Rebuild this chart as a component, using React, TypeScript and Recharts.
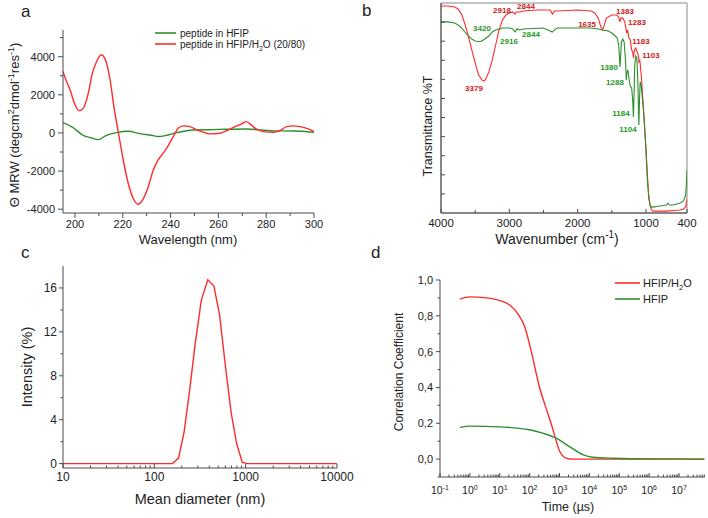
import React from 'react'
import { LineChart, Line, XAxis, YAxis, ReferenceArea, ReferenceDot } from 'recharts'

const RED = '#ff2a2a'
const GREEN = '#2e8f2e'
const RED_TXT = '#d01818'
const GREEN_TXT = '#1e9a1e'
const AXIS = '#4a4a4a'
const INK = '#222'
const FONT = '"Liberation Sans", Arial, Helvetica, sans-serif'

// (a) CD spectra
const cdRedNm = [195, 196, 198, 200, 201.8, 203.5, 205.6, 207.3, 209.1, 211, 213, 214.7, 216.3, 218.1, 220.2, 222.3, 224.4, 226.4, 228.5, 230.6, 232.7, 234.8, 237, 238.4, 241.1, 243.2, 245.3, 248.1, 250.9, 253, 256.5, 260.7, 264.2, 267.7, 269.8, 271.6, 273.2, 276, 278.8, 283, 285.8, 288.6, 291.4, 294.1, 297.6, 300]
const cdRedMrw = [3230, 2850, 2250, 1480, 1170, 1300, 2090, 3140, 3750, 4100, 3750, 2790, 1380, 70, -1420, -2650, -3440, -3740, -3470, -2850, -1970, -1410, -1050, -800, -195, 245, 370, 330, 160, 70, -50, -15, 160, 370, 475, 595, 475, 195, 70, 35, 125, 330, 370, 330, 210, 70]
const cdGreenNm = [195, 199.2, 203.4, 206.9, 209.7, 213.2, 217.4, 222.3, 227.2, 232.1, 235, 238.4, 242.6, 249.5, 256, 263.5, 271.8, 277.4, 284, 291.4, 300]
const cdGreenMrw = [546, 282, -123, -264, -352, -123, 18, 88, -35, -123, -190, -123, 16, 158, 170, 195, 210, 158, 110, 105, 35]

// (b) FTIR spectra
const irRedWn = [4000, 3900, 3800, 3750, 3700, 3650, 3600, 3550, 3500, 3450, 3400, 3379, 3350, 3300, 3250, 3200, 3150, 3100, 3050, 3000, 2950, 2918, 2900, 2844, 2800, 2600, 2400, 2370, 2340, 2300, 2000, 1800, 1750, 1700, 1660, 1635, 1610, 1580, 1500, 1430, 1400, 1383, 1370, 1340, 1310, 1290, 1283, 1270, 1250, 1230, 1210, 1195, 1183, 1170, 1150, 1130, 1115, 1103, 1090, 1070, 1050, 1030, 1000, 980, 960, 940, 920, 900, 800, 700, 600, 500, 450, 420, 410, 400]
const irRedT = [108.4, 108.4, 107.9, 106.9, 104.2, 99, 92.7, 85.4, 78.6, 72.3, 69.7, 69.1, 69.7, 73.9, 80.1, 88, 95.9, 101.1, 103.7, 104.8, 105.3, 104.2, 105.3, 105.3, 105.8, 106.3, 106.3, 104.2, 105.8, 105.8, 106.3, 105.8, 104.8, 102.1, 97.4, 95.9, 98.5, 102.1, 103.7, 103.7, 102.7, 100.1, 102.1, 102.1, 100.1, 95.9, 94.3, 95.9, 91.7, 90.6, 85.4, 84.5, 81.2, 85.4, 86.4, 84.3, 83, 79.1, 80, 72.3, 61.8, 51.3, 33, 19.9, 9.4, 3.7, 1.6, 1, 1, 1, 1.3, 1.6, 2.1, 3.1, 5.2, 7.3]
const irGreenWn = [4000, 3900, 3800, 3750, 3700, 3650, 3600, 3550, 3500, 3450, 3420, 3380, 3300, 3250, 3200, 3100, 3000, 2950, 2916, 2890, 2844, 2800, 2500, 2370, 2340, 2300, 2000, 1800, 1700, 1635, 1560, 1500, 1450, 1420, 1400, 1390, 1380, 1370, 1360, 1340, 1320, 1300, 1288, 1280, 1265, 1250, 1230, 1210, 1195, 1184, 1175, 1165, 1150, 1135, 1120, 1104, 1095, 1085, 1070, 1050, 1030, 1000, 980, 960, 940, 920, 900, 800, 700, 680, 660, 600, 550, 500, 450, 420, 410, 400]
const irGreenT = [100.1, 100.1, 99.5, 98.5, 96.9, 94.8, 92.7, 91.1, 90.1, 89.8, 89.8, 90.6, 92.7, 94.8, 95.9, 96.9, 96.9, 96.4, 94.8, 96.4, 95.9, 96.4, 96.9, 94.8, 95.9, 96.9, 96.9, 96.9, 96.4, 95.9, 95.4, 94.3, 92.7, 91.7, 88, 82.8, 76.5, 82.8, 89.6, 91.1, 89.6, 80.1, 69.7, 73.4, 74.9, 70.7, 66.5, 65.5, 59.2, 50.3, 61.8, 77.5, 82.2, 81.2, 69.7, 46.1, 59.2, 68.6, 67, 59.2, 49.8, 33, 17.3, 7.9, 4.2, 3.1, 3.1, 3.7, 4.2, 5.2, 4.2, 4.2, 4.7, 5.2, 6.3, 9.4, 14.7, 22.5]

// peak labels: text, where it sits (wavenumber, %T), which spectrum
const irLabelText = ['3379', '2918', '2844', '1635', '1383', '1283', '1183', '1103', '3420', '2916', '2844', '1380', '1288', '1184', '1104']
const irLabelWn = [3517, 3107, 2756, 1863, 1307, 1132, 1073, 927, 3400, 3005, 2683, 1541, 1454, 1366, 1263]
const irLabelT = [65.5, 106.3, 108.4, 99, 105.8, 100.1, 90.1, 82.8, 96.9, 90.1, 93.8, 76.5, 68.6, 52.4, 44]
const irLabelRed = [true, true, true, true, true, true, true, true, false, false, false, false, false, false, false]

// (c) DLS size distribution
const dlsDiameter = [10, 158, 184, 212, 241, 281, 327, 385, 448, 517, 602, 695, 795, 918, 1047, 10000]
const dlsIntensity = [0, 0, 0.5, 2.9, 6.4, 11, 14.9, 16.75, 16.2, 13.6, 8.8, 4.6, 1.85, 0.1, 0, 0]

// (d) correlation functions
const corrRedTime = [0.46, 1, 3.6, 10, 21.5, 41, 68, 114, 215, 330, 520, 720, 1000, 1400, 2000, 2800, 1e4, 1e5, 1e6, 1e7, 7e7]
const corrRedCoef = [0.893, 0.906, 0.9, 0.885, 0.86, 0.81, 0.74, 0.6, 0.4, 0.3, 0.2, 0.12, 0.045, 0.012, 0.002, 0, 0, 0, 0, 0, 0]
const corrGreenTime = [0.46, 1, 10, 36, 100, 275, 776, 2150, 6000, 13000, 60000, 2.8e6, 7e7]
const corrGreenCoef = [0.177, 0.184, 0.18, 0.173, 0.164, 0.145, 0.117, 0.07, 0.025, 0.01, 0.005, 0.001, 0]

const pts = (xs: number[], ys: number[]) => xs.map((x, i) => ({ x, y: ys[i] }))

// tick marks: majors + minors
const cdXMajor = [200, 220, 240, 260, 280, 300]
const cdXMinor = [210, 230, 250, 270, 290]
const cdYMajor = [-4000, -2000, 0, 2000, 4000]
const cdYMinor = [-3000, -1000, 1000, 3000, 5000]
const irXMajor = [4000, 3000, 2000, 1000, 400]
const irXMinor = [3500, 2500, 1500]
const irYTicks = [10, 20, 30, 40, 50, 60, 70, 80, 90, 100]
const dlsXMajor = [10, 100, 1000, 10000]
const dlsXMinor = [10, 100, 1000].flatMap((d) => [2, 3, 4, 5, 6, 7, 8, 9].map((k) => k * d))
const dlsYMajor = [0, 4, 8, 12, 16]
const dlsYMinor = [2, 6, 10, 14]
const corrXMajor = [0.1, 1, 10, 100, 1e3, 1e4, 1e5, 1e6, 1e7]
const corrXMinor = corrXMajor.flatMap((d) => [2, 3, 4, 5, 6, 7, 8, 9].map((k) => k * d)).filter((v) => v < 7.4e7)
const corrYMajor = [0, 0.2, 0.4, 0.6, 0.8, 1.0]
const corrYMinor = [-0.1, 0.1, 0.3, 0.5, 0.7, 0.9]

interface TickSpec {
  side: 'bottom' | 'left'
  majors: number[]
  major: number
  minor: number
  inward?: boolean
  gap: number
  size: number
  label?: (v: number) => React.ReactNode
}

const makeTick = (s: TickSpec) => (props: any) => {
  const { x, y, payload } = props
  const v = payload.value as number
  const isMajor = s.majors.includes(v)
  const len = isMajor ? s.major : s.minor
  const d = s.inward ? -1 : 1
  const text = isMajor && s.label ? s.label(v) : null
  if (s.side === 'bottom') {
    return (
      <g>
        <line x1={x} y1={y} x2={x} y2={y + d * len} stroke={AXIS} />
        {text !== null && (
          <text x={x} y={y + s.gap} textAnchor="middle" fontSize={s.size} fill={INK}>
            {text}
          </text>
        )}
      </g>
    )
  }
  return (
    <g>
      <line x1={x} y1={y} x2={x - d * len} y2={y} stroke={AXIS} />
      {text !== null && (
        <text x={x - s.gap} y={y} dy="0.36em" textAnchor="end" fontSize={s.size} fill={INK}>
          {text}
        </text>
      )}
    </g>
  )
}

const expLabel = (v: number) => (
  <>
    <tspan>10</tspan>
    <tspan dy={-4} fontSize={7}>{String(Math.round(Math.log10(v)))}</tspan>
  </>
)

const axisProps = { tickLine: false, tickSize: 0, tickMargin: 0, interval: 0 as const, axisLine: { stroke: AXIS } }

const Pos: React.FC<{ left: number; top: number; children: React.ReactNode }> = ({ left, top, children }) => (
  <div style={{ position: 'absolute', left, top }}>{children}</div>
)

const App: React.FC = () => {
  return (
    <div style={{ position: 'absolute', left: 0, top: 0, width: 708, height: 518, background: '#fff', fontFamily: FONT }}>
      {/* a */}
      <Pos left={0} top={0}>
        <LineChart width={330} height={250} margin={{ top: 30, right: 16, bottom: 0, left: 0 }}>
          <XAxis
            type="number" dataKey="x" domain={[195, 300]} allowDataOverflow height={37}
            ticks={[...cdXMajor, ...cdXMinor]}
            tick={makeTick({ side: 'bottom', majors: cdXMajor, major: 5, minor: 3, gap: 15, size: 11, label: (v) => String(v) })}
            {...axisProps}
          />
          <YAxis
            type="number" dataKey="y" domain={[-4200, 5400]} allowDataOverflow width={63}
            ticks={[...cdYMajor, ...cdYMinor]}
            tick={makeTick({ side: 'left', majors: cdYMajor, major: 5, minor: 3, gap: 8, size: 11, label: (v) => String(v) })}
            {...axisProps}
          />
          <Line data={pts(cdGreenNm, cdGreenMrw)} dataKey="y" type="monotone" stroke={GREEN} strokeWidth={1.4} dot={false} isAnimationActive={false} />
          <Line data={pts(cdRedNm, cdRedMrw)} dataKey="y" type="monotone" stroke={RED} strokeWidth={1.4} dot={false} isAnimationActive={false} />
        </LineChart>
      </Pos>

      {/* b */}
      <Pos left={330} top={0}>
        <LineChart width={378} height={250} margin={{ top: 3, right: 21, bottom: 0, left: 0 }}>
          <XAxis
            type="number" dataKey="x" domain={[400, 4000]} reversed allowDataOverflow height={37}
            ticks={[...irXMajor, ...irXMinor]}
            tick={makeTick({ side: 'bottom', majors: irXMajor, major: 4, minor: 3, inward: true, gap: 14, size: 11.5, label: (v) => String(v) })}
            {...axisProps}
          />
          <YAxis
            type="number" dataKey="y" domain={[0, 110]} allowDataOverflow width={111}
            ticks={irYTicks}
            tick={makeTick({ side: 'left', majors: [], major: 4, minor: 4, inward: true, gap: 0, size: 11 })}
            {...axisProps}
          />
          <ReferenceArea x1={400} x2={4000} y1={0} y2={110} fill="none" stroke="#888" />
          <Line data={pts(irRedWn, irRedT)} dataKey="y" type="linear" stroke={RED} strokeWidth={1.1} dot={false} isAnimationActive={false} />
          <Line data={pts(irGreenWn, irGreenT)} dataKey="y" type="linear" stroke={GREEN} strokeWidth={1.1} dot={false} isAnimationActive={false} />
          {irLabelText.map((t, i) => (
            <ReferenceDot
              key={i} x={irLabelWn[i]} y={irLabelT[i]} r={0} fill="none" stroke="none"
              label={{ value: t, position: 'center', fill: irLabelRed[i] ? RED_TXT : GREEN_TXT, fontSize: 8, fontWeight: 700 }}
            />
          ))}
        </LineChart>
      </Pos>

      {/* c */}
      <Pos left={0} top={250}>
        <LineChart width={360} height={268} margin={{ top: 16, right: 23, bottom: 0, left: 0 }}>
          <XAxis
            type="number" dataKey="x" scale="log" domain={[10, 10000]} allowDataOverflow height={50}
            ticks={[...dlsXMajor, ...dlsXMinor]}
            tick={makeTick({ side: 'bottom', majors: dlsXMajor, major: 4, minor: 2.5, inward: true, gap: 13, size: 12, label: (v) => String(v) })}
            {...axisProps}
          />
          <YAxis
            type="number" dataKey="y" domain={[-0.4, 18]} allowDataOverflow width={63}
            ticks={[...dlsYMajor, ...dlsYMinor]}
            tick={makeTick({ side: 'left', majors: dlsYMajor, major: 4, minor: 2.5, gap: 6, size: 12, label: (v) => String(v) })}
            {...axisProps}
          />
          <Line data={pts(dlsDiameter, dlsIntensity)} dataKey="y" type="linear" stroke={RED} strokeWidth={1.4} dot={false} isAnimationActive={false} />
        </LineChart>
      </Pos>

      {/* d */}
      <Pos left={330} top={250}>
        <LineChart width={378} height={268} margin={{ top: 30, right: 3, bottom: 0, left: 0 }}>
          <XAxis
            type="number" dataKey="x" scale="log" domain={[0.1, 7.4e7]} allowDataOverflow height={41}
            ticks={[...corrXMajor, ...corrXMinor]}
            tick={makeTick({ side: 'bottom', majors: corrXMajor, major: 4, minor: 2.5, inward: true, gap: 17, size: 10.5, label: expLabel })}
            {...axisProps}
          />
          <YAxis
            type="number" dataKey="y" domain={[-0.1, 1.0]} allowDataOverflow width={110}
            ticks={[...corrYMajor, ...corrYMinor]}
            tick={makeTick({ side: 'left', majors: corrYMajor, major: 4, minor: 2.5, gap: 7, size: 11, label: (v) => v.toFixed(1).replace('.', ',') })}
            {...axisProps}
          />
          <Line data={pts(corrRedTime, corrRedCoef)} dataKey="y" type="monotone" stroke={RED} strokeWidth={1.4} dot={false} isAnimationActive={false} />
          <Line data={pts(corrGreenTime, corrGreenCoef)} dataKey="y" type="monotone" stroke={GREEN} strokeWidth={1.4} dot={false} isAnimationActive={false} />
        </LineChart>
      </Pos>

      {/* panel letters, axis titles and legends */}
      <svg width={708} height={518} style={{ position: 'absolute', left: 0, top: 0, pointerEvents: 'none' }} fontFamily={FONT} fill={INK}>
        <text x={21} y={17} fontSize={17}>a</text>
        <text x={362} y={16} fontSize={17}>b</text>
        <text x={21} y={258} fontSize={17}>c</text>
        <text x={371} y={258} fontSize={17}>d</text>

        <text transform="translate(19,125) rotate(-90)" textAnchor="middle" fontSize={13}>
          Θ MRW (degcm<tspan dy={-5} fontSize={9}>2</tspan>
          <tspan dy={5}>dmol</tspan>
          <tspan dy={-5} fontSize={9}>-1</tspan>
          <tspan dy={5}>res</tspan>
          <tspan dy={-5} fontSize={9}>-1</tspan>
          <tspan dy={5}>)</tspan>
        </text>
        <text x={188} y={244} textAnchor="middle" fontSize={13}>Wavelength (nm)</text>

        <text transform="translate(432,126) rotate(-90)" textAnchor="middle" fontSize={12.5}>Transmittance %T</text>
        <text x={557} y={244} textAnchor="middle" fontSize={14}>
          Wavenumber (cm<tspan dy={-6} fontSize={10}>-1</tspan>
          <tspan dy={6}>)</tspan>
        </text>

        <text transform="translate(32,367) rotate(-90)" textAnchor="middle" fontSize={14.5}>Intensity (%)</text>
        <text x={200} y={504} textAnchor="middle" fontSize={14.5}>Mean diameter (nm)</text>

        <text transform="translate(403,372) rotate(-90)" textAnchor="middle" fontSize={12}>Correlation Coefficient</text>
        <text x={568} y={511} textAnchor="middle" fontSize={12.5}>Time (µs)</text>

        <line x1={155} y1={33} x2={176} y2={33} stroke={GREEN} strokeWidth={1.6} />
        <text x={180} y={37} fontSize={10}>peptide in HFIP</text>
        <line x1={155} y1={44} x2={176} y2={44} stroke={RED} strokeWidth={1.6} />
        <text x={180} y={48} fontSize={10}>
          peptide in HFIP/H<tspan dy={3} fontSize={7}>2</tspan>
          <tspan dy={-3}>O (20/80)</tspan>
        </text>

        <line x1={615} y1={283} x2={640} y2={283} stroke={RED} strokeWidth={1.6} />
        <text x={643} y={287} fontSize={11}>
          HFIP/H<tspan dy={3} fontSize={7.5}>2</tspan>
          <tspan dy={-3}>O</tspan>
        </text>
        <line x1={615} y1={299} x2={640} y2={299} stroke={GREEN} strokeWidth={1.6} />
        <text x={643} y={303} fontSize={11}>HFIP</text>
      </svg>
    </div>
  )
}

export default App
